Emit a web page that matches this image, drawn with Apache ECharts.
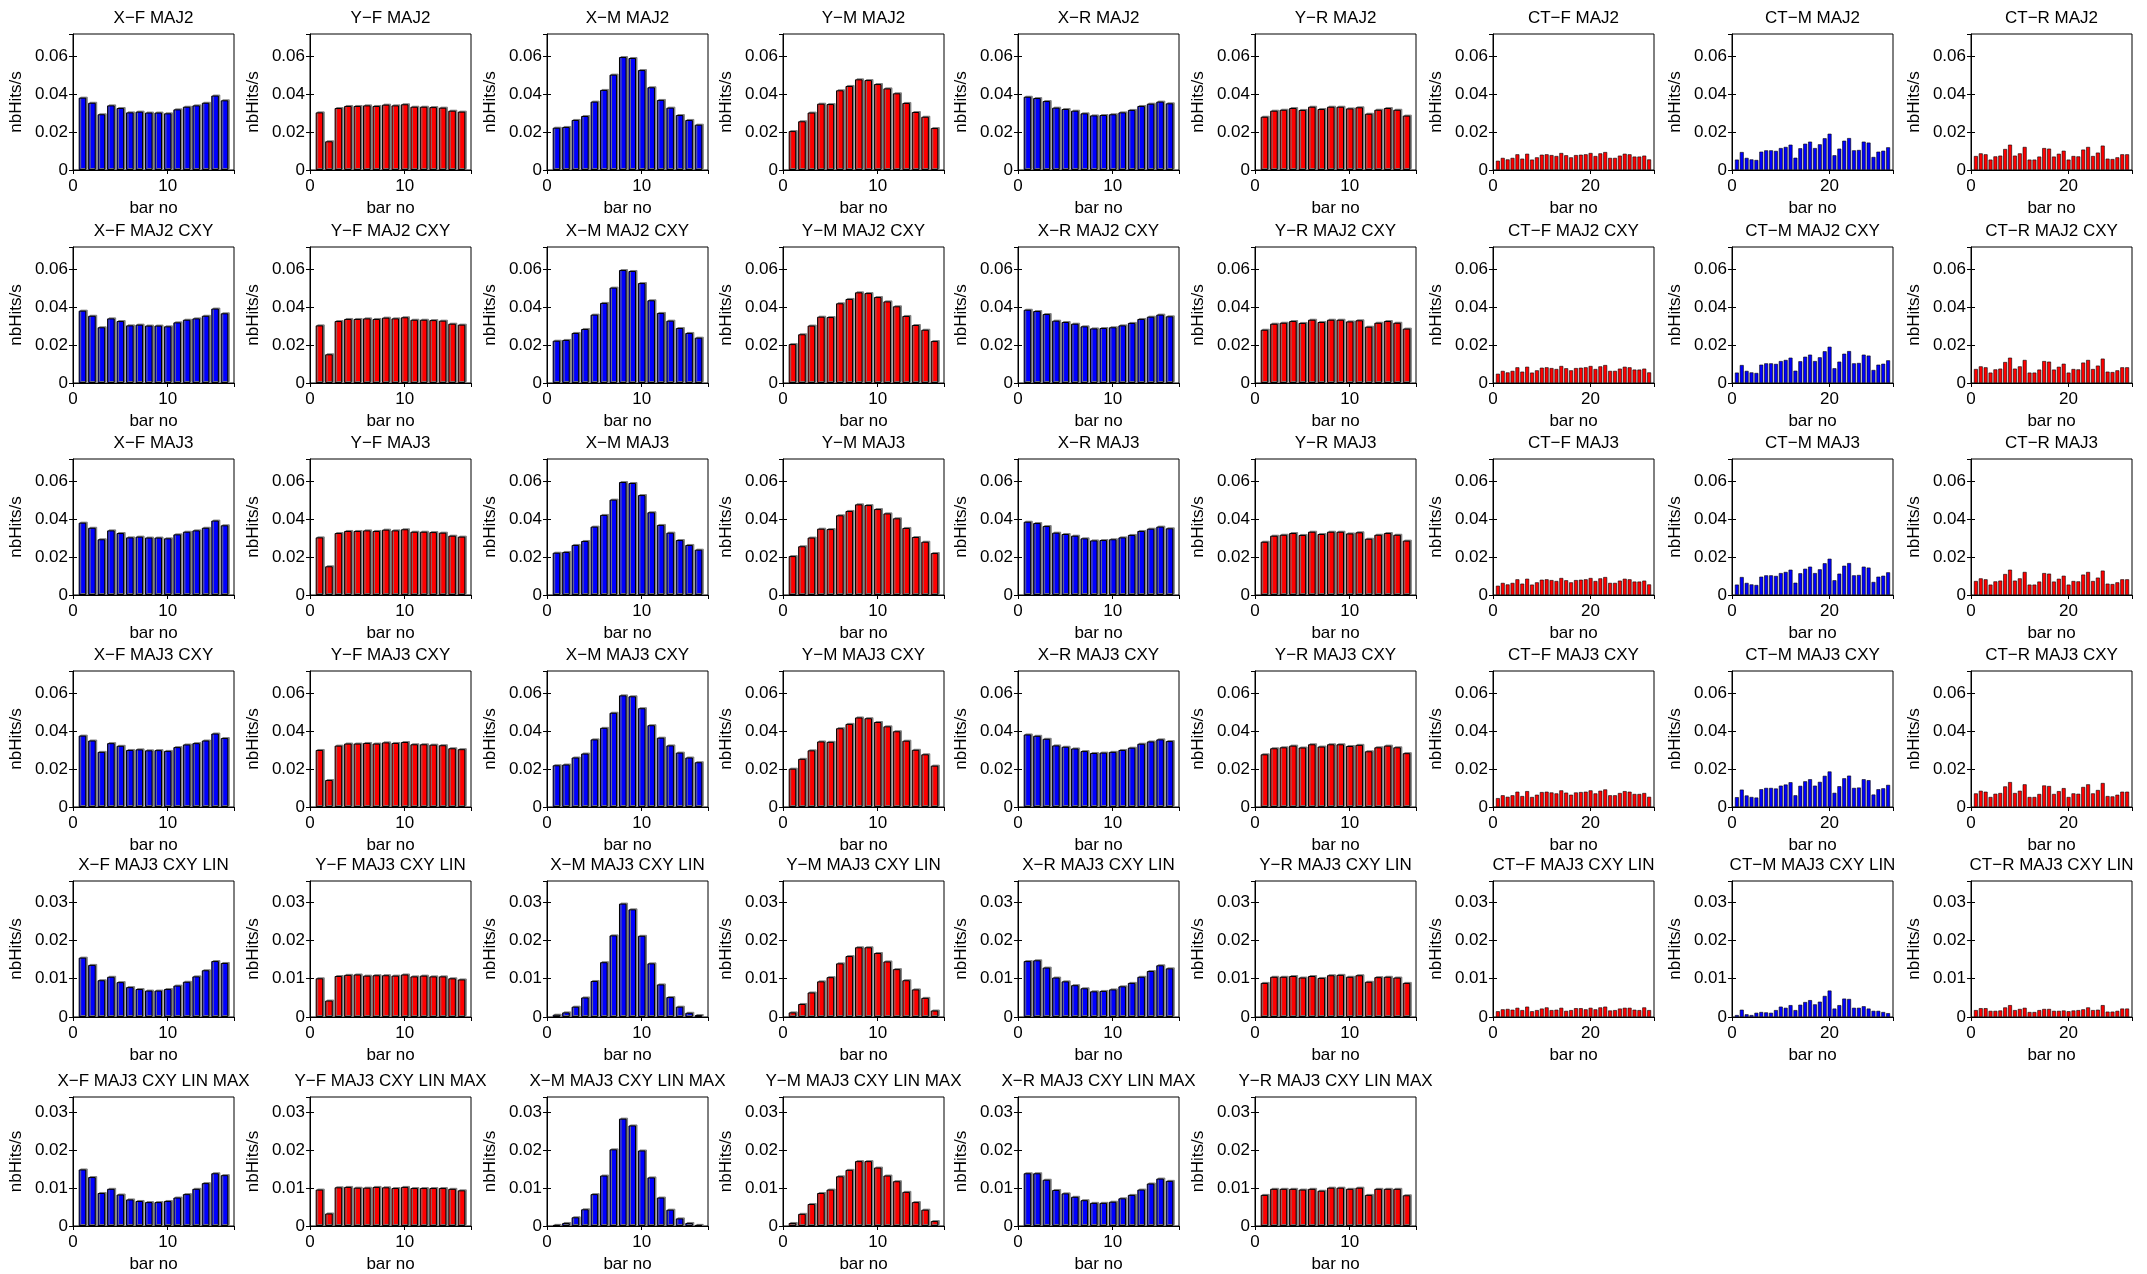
<!DOCTYPE html>
<html><head><meta charset="utf-8">
<script src="https://cdn.jsdelivr.net/npm/echarts@6/dist/echarts.min.js"></script>
<style>html,body{margin:0;padding:0;background:#fff}#c{width:2147px;height:1274px}</style>
</head><body><div id="c"></div>
<script>
// ---------- data ----------
const rowNames = ["MAJ2", "MAJ2 CXY", "MAJ3", "MAJ3 CXY", "MAJ3 CXY LIN", "MAJ3 CXY LIN MAX"];
const colNames = ["X\u2212F", "Y\u2212F", "X\u2212M", "Y\u2212M", "X\u2212R", "Y\u2212R", "CT\u2212F", "CT\u2212M", "CT\u2212R"];
const yTicksBig = [0, 0.02, 0.04, 0.06];
const yTicksSmall = [0, 0.01, 0.02, 0.03];

// row 1: MAJ2
const xF_MAJ2 = [0.0383,0.0356,0.0295,0.0342,0.0328,0.0305,0.0309,0.0304,0.0304,0.0300,0.0321,0.0335,0.0342,0.0356,0.0394,0.0369];
const yF_MAJ2 = [0.0305,0.0152,0.0328,0.0339,0.0339,0.0342,0.0339,0.0346,0.0342,0.0348,0.0335,0.0335,0.0333,0.0330,0.0314,0.0309];
const xM_MAJ2 = [0.0224,0.0228,0.0265,0.0286,0.0362,0.0424,0.0505,0.0598,0.0593,0.0529,0.0438,0.0371,0.0330,0.0291,0.0265,0.0240];
const yM_MAJ2 = [0.0206,0.0258,0.0304,0.0351,0.0349,0.0422,0.0445,0.0480,0.0476,0.0455,0.0432,0.0406,0.0355,0.0307,0.0282,0.0222];
const xR_MAJ2 = [0.0388,0.0381,0.0365,0.0330,0.0323,0.0314,0.0300,0.0289,0.0291,0.0295,0.0305,0.0318,0.0339,0.0351,0.0362,0.0353];
const yR_MAJ2 = [0.0282,0.0314,0.0319,0.0328,0.0318,0.0335,0.0323,0.0335,0.0335,0.0326,0.0332,0.0298,0.0319,0.0328,0.0319,0.0288];
const ctF_MAJ2 = [0.0049,0.0064,0.0056,0.0064,0.0083,0.0060,0.0086,0.0055,0.0067,0.0081,0.0083,0.0079,0.0074,0.0090,0.0078,0.0067,0.0079,0.0081,0.0083,0.0090,0.0074,0.0088,0.0095,0.0064,0.0064,0.0076,0.0086,0.0083,0.0071,0.0071,0.0076,0.0056];
const ctM_MAJ2 = [0.0055,0.0095,0.0064,0.0056,0.0053,0.0097,0.0104,0.0104,0.0101,0.0116,0.0122,0.0134,0.0065,0.0115,0.0139,0.0150,0.0116,0.0136,0.0168,0.0192,0.0078,0.0113,0.0155,0.0169,0.0104,0.0106,0.0150,0.0145,0.0069,0.0097,0.0102,0.0120];
const ctR_MAJ2 = [0.0074,0.0088,0.0083,0.0055,0.0072,0.0076,0.0111,0.0134,0.0076,0.0088,0.0122,0.0055,0.0055,0.0071,0.0116,0.0113,0.0071,0.0086,0.0102,0.0055,0.0074,0.0072,0.0108,0.0122,0.0074,0.0092,0.0129,0.0060,0.0058,0.0067,0.0083,0.0083];

// row 2: MAJ2 CXY
const xF_MAJ2CXY = [0.0383,0.0356,0.0295,0.0342,0.0328,0.0305,0.0309,0.0304,0.0304,0.0300,0.0321,0.0335,0.0342,0.0356,0.0394,0.0369];
const yF_MAJ2CXY = [0.0305,0.0152,0.0328,0.0339,0.0339,0.0342,0.0339,0.0346,0.0342,0.0348,0.0335,0.0335,0.0333,0.0330,0.0314,0.0309];
const xM_MAJ2CXY = [0.0224,0.0228,0.0265,0.0286,0.0362,0.0424,0.0505,0.0598,0.0593,0.0529,0.0438,0.0371,0.0330,0.0291,0.0265,0.0240];
const yM_MAJ2CXY = [0.0206,0.0258,0.0304,0.0351,0.0349,0.0422,0.0445,0.0480,0.0476,0.0455,0.0432,0.0406,0.0355,0.0307,0.0282,0.0222];
const xR_MAJ2CXY = [0.0388,0.0381,0.0365,0.0330,0.0323,0.0314,0.0300,0.0289,0.0291,0.0295,0.0305,0.0318,0.0339,0.0351,0.0362,0.0353];
const yR_MAJ2CXY = [0.0282,0.0314,0.0319,0.0328,0.0318,0.0335,0.0323,0.0335,0.0335,0.0326,0.0332,0.0298,0.0319,0.0328,0.0319,0.0288];
const ctF_MAJ2CXY = [0.0049,0.0064,0.0056,0.0064,0.0083,0.0060,0.0086,0.0055,0.0067,0.0081,0.0083,0.0079,0.0074,0.0090,0.0078,0.0067,0.0079,0.0081,0.0083,0.0090,0.0074,0.0088,0.0095,0.0064,0.0064,0.0076,0.0086,0.0083,0.0071,0.0071,0.0076,0.0056];
const ctM_MAJ2CXY = [0.0055,0.0095,0.0064,0.0056,0.0053,0.0097,0.0104,0.0104,0.0101,0.0116,0.0122,0.0134,0.0065,0.0115,0.0139,0.0150,0.0116,0.0136,0.0168,0.0192,0.0078,0.0113,0.0155,0.0169,0.0104,0.0106,0.0150,0.0145,0.0069,0.0097,0.0102,0.0120];
const ctR_MAJ2CXY = [0.0074,0.0088,0.0083,0.0055,0.0072,0.0076,0.0111,0.0134,0.0076,0.0088,0.0122,0.0055,0.0055,0.0071,0.0116,0.0113,0.0071,0.0086,0.0102,0.0055,0.0074,0.0072,0.0108,0.0122,0.0074,0.0092,0.0129,0.0060,0.0058,0.0067,0.0083,0.0083];

// row 3: MAJ3
const xF_MAJ3 = [0.0383,0.0356,0.0295,0.0342,0.0328,0.0305,0.0309,0.0304,0.0304,0.0300,0.0321,0.0335,0.0342,0.0356,0.0394,0.0369];
const yF_MAJ3 = [0.0305,0.0152,0.0328,0.0339,0.0339,0.0342,0.0339,0.0346,0.0342,0.0348,0.0335,0.0335,0.0333,0.0330,0.0314,0.0309];
const xM_MAJ3 = [0.0224,0.0228,0.0265,0.0286,0.0362,0.0424,0.0505,0.0598,0.0593,0.0529,0.0438,0.0371,0.0330,0.0291,0.0265,0.0240];
const yM_MAJ3 = [0.0206,0.0258,0.0304,0.0351,0.0349,0.0422,0.0445,0.0480,0.0476,0.0455,0.0432,0.0406,0.0355,0.0307,0.0282,0.0222];
const xR_MAJ3 = [0.0388,0.0381,0.0365,0.0330,0.0323,0.0314,0.0300,0.0289,0.0291,0.0295,0.0305,0.0318,0.0339,0.0351,0.0362,0.0353];
const yR_MAJ3 = [0.0282,0.0314,0.0319,0.0328,0.0318,0.0335,0.0323,0.0335,0.0335,0.0326,0.0332,0.0298,0.0319,0.0328,0.0319,0.0288];
const ctF_MAJ3 = [0.0049,0.0064,0.0056,0.0064,0.0083,0.0060,0.0086,0.0055,0.0067,0.0081,0.0083,0.0079,0.0074,0.0090,0.0078,0.0067,0.0079,0.0081,0.0083,0.0090,0.0074,0.0088,0.0095,0.0064,0.0064,0.0076,0.0086,0.0083,0.0071,0.0071,0.0076,0.0056];
const ctM_MAJ3 = [0.0055,0.0095,0.0064,0.0056,0.0053,0.0097,0.0104,0.0104,0.0101,0.0116,0.0122,0.0134,0.0065,0.0115,0.0139,0.0150,0.0116,0.0136,0.0168,0.0192,0.0078,0.0113,0.0155,0.0169,0.0104,0.0106,0.0150,0.0145,0.0069,0.0097,0.0102,0.0120];
const ctR_MAJ3 = [0.0074,0.0088,0.0083,0.0055,0.0072,0.0076,0.0111,0.0134,0.0076,0.0088,0.0122,0.0055,0.0055,0.0071,0.0116,0.0113,0.0071,0.0086,0.0102,0.0055,0.0074,0.0072,0.0108,0.0122,0.0074,0.0092,0.0129,0.0060,0.0058,0.0067,0.0083,0.0083];

// row 4: MAJ3 CXY
const xF_MAJ3CXY = [0.0378,0.0352,0.0292,0.0338,0.0324,0.0302,0.0305,0.0300,0.0301,0.0297,0.0317,0.0331,0.0338,0.0352,0.0389,0.0365];
const yF_MAJ3CXY = [0.0302,0.0143,0.0325,0.0336,0.0336,0.0339,0.0336,0.0342,0.0339,0.0344,0.0332,0.0332,0.0330,0.0327,0.0311,0.0306];
const xM_MAJ3CXY = [0.0221,0.0225,0.0262,0.0283,0.0358,0.0419,0.0499,0.0591,0.0586,0.0523,0.0433,0.0367,0.0326,0.0288,0.0262,0.0237];
const yM_MAJ3CXY = [0.0203,0.0255,0.0300,0.0347,0.0345,0.0417,0.0440,0.0474,0.0470,0.0450,0.0427,0.0401,0.0351,0.0303,0.0279,0.0219];
const xR_MAJ3CXY = [0.0384,0.0377,0.0361,0.0326,0.0319,0.0310,0.0296,0.0286,0.0288,0.0292,0.0302,0.0314,0.0335,0.0347,0.0358,0.0349];
const yR_MAJ3CXY = [0.0279,0.0311,0.0316,0.0325,0.0315,0.0332,0.0320,0.0332,0.0332,0.0323,0.0329,0.0295,0.0316,0.0325,0.0316,0.0285];
const ctF_MAJ3CXY = [0.0047,0.0062,0.0054,0.0062,0.0081,0.0058,0.0084,0.0053,0.0065,0.0079,0.0081,0.0077,0.0072,0.0088,0.0076,0.0065,0.0077,0.0079,0.0081,0.0088,0.0072,0.0086,0.0093,0.0062,0.0062,0.0074,0.0084,0.0081,0.0069,0.0069,0.0074,0.0054];
const ctM_MAJ3CXY = [0.0052,0.0092,0.0061,0.0053,0.0050,0.0094,0.0101,0.0101,0.0098,0.0113,0.0119,0.0131,0.0062,0.0112,0.0136,0.0147,0.0113,0.0133,0.0165,0.0188,0.0075,0.0110,0.0152,0.0166,0.0101,0.0103,0.0147,0.0142,0.0066,0.0094,0.0099,0.0117];
const ctR_MAJ3CXY = [0.0072,0.0086,0.0081,0.0053,0.0070,0.0074,0.0109,0.0132,0.0074,0.0086,0.0120,0.0053,0.0053,0.0069,0.0114,0.0111,0.0069,0.0084,0.0100,0.0053,0.0072,0.0070,0.0106,0.0120,0.0072,0.0090,0.0127,0.0058,0.0056,0.0065,0.0081,0.0081];

// row 5: MAJ3 CXY LIN
const xF_LIN = [0.0155,0.0136,0.0096,0.0105,0.0091,0.0078,0.0073,0.0069,0.0069,0.0073,0.0082,0.0092,0.0106,0.0122,0.0146,0.0141];
const yF_LIN = [0.0101,0.0043,0.0107,0.0110,0.0111,0.0108,0.0109,0.0109,0.0108,0.0111,0.0106,0.0108,0.0106,0.0106,0.0101,0.0098];
const xM_LIN = [0.0006,0.0012,0.0027,0.0051,0.0094,0.0143,0.0213,0.0296,0.0281,0.0212,0.0140,0.0085,0.0052,0.0027,0.0011,0.0005];
const yM_LIN = [0.0012,0.0034,0.0064,0.0093,0.0104,0.0140,0.0159,0.0182,0.0182,0.0167,0.0145,0.0125,0.0096,0.0072,0.0050,0.0017];
const xR_LIN = [0.0146,0.0148,0.0129,0.0103,0.0093,0.0083,0.0075,0.0067,0.0068,0.0072,0.0080,0.0089,0.0105,0.0120,0.0135,0.0127];
const yR_LIN = [0.0089,0.0105,0.0105,0.0107,0.0103,0.0107,0.0102,0.0109,0.0110,0.0105,0.0109,0.0092,0.0104,0.0105,0.0103,0.0089];
const ctF_LIN = [0.0015,0.0020,0.0021,0.0019,0.0024,0.0018,0.0027,0.0015,0.0018,0.0022,0.0025,0.0018,0.0019,0.0024,0.0016,0.0018,0.0023,0.0023,0.0020,0.0024,0.0020,0.0025,0.0027,0.0017,0.0018,0.0022,0.0024,0.0024,0.0019,0.0018,0.0025,0.0018];
const ctM_LIN = [0.0005,0.0019,0.0007,0.0005,0.0011,0.0013,0.0012,0.0011,0.0018,0.0027,0.0024,0.0031,0.0018,0.0032,0.0039,0.0044,0.0033,0.0040,0.0055,0.0069,0.0022,0.0031,0.0048,0.0047,0.0024,0.0024,0.0028,0.0022,0.0016,0.0016,0.0013,0.0010];
const ctR_LIN = [0.0018,0.0023,0.0023,0.0016,0.0016,0.0017,0.0025,0.0031,0.0018,0.0021,0.0024,0.0013,0.0013,0.0018,0.0021,0.0021,0.0016,0.0016,0.0017,0.0015,0.0017,0.0018,0.0020,0.0025,0.0018,0.0019,0.0031,0.0014,0.0014,0.0016,0.0022,0.0022];

// row 6: MAJ3 CXY LIN MAX
const xF_MAX = [0.0149,0.0129,0.0087,0.0098,0.0083,0.0070,0.0066,0.0063,0.0063,0.0066,0.0075,0.0084,0.0098,0.0113,0.0139,0.0134];
const yF_MAX = [0.0096,0.0033,0.0102,0.0103,0.0101,0.0101,0.0103,0.0102,0.0100,0.0103,0.0100,0.0100,0.0100,0.0100,0.0098,0.0094];
const xM_MAX = [0.0003,0.0008,0.0023,0.0044,0.0084,0.0133,0.0202,0.0283,0.0265,0.0199,0.0128,0.0075,0.0043,0.0020,0.0008,0.0003];
const yM_MAX = [0.0008,0.0032,0.0058,0.0087,0.0096,0.0131,0.0148,0.0171,0.0171,0.0154,0.0133,0.0118,0.0090,0.0063,0.0043,0.0013];
const xR_MAX = [0.0139,0.0139,0.0122,0.0095,0.0086,0.0077,0.0068,0.0061,0.0061,0.0064,0.0073,0.0082,0.0096,0.0112,0.0125,0.0119];
const yR_MAX = [0.0082,0.0098,0.0098,0.0098,0.0096,0.0098,0.0093,0.0101,0.0101,0.0098,0.0101,0.0082,0.0098,0.0098,0.0098,0.0081];

const rows = [
  {name: rowNames[0], yMax: 0.072, yInt: 0.02, data: [xF_MAJ2, yF_MAJ2, xM_MAJ2, yM_MAJ2, xR_MAJ2, yR_MAJ2, ctF_MAJ2, ctM_MAJ2, ctR_MAJ2]},
  {name: rowNames[1], yMax: 0.072, yInt: 0.02, data: [xF_MAJ2CXY, yF_MAJ2CXY, xM_MAJ2CXY, yM_MAJ2CXY, xR_MAJ2CXY, yR_MAJ2CXY, ctF_MAJ2CXY, ctM_MAJ2CXY, ctR_MAJ2CXY]},
  {name: rowNames[2], yMax: 0.072, yInt: 0.02, data: [xF_MAJ3, yF_MAJ3, xM_MAJ3, yM_MAJ3, xR_MAJ3, yR_MAJ3, ctF_MAJ3, ctM_MAJ3, ctR_MAJ3]},
  {name: rowNames[3], yMax: 0.072, yInt: 0.02, data: [xF_MAJ3CXY, yF_MAJ3CXY, xM_MAJ3CXY, yM_MAJ3CXY, xR_MAJ3CXY, yR_MAJ3CXY, ctF_MAJ3CXY, ctM_MAJ3CXY, ctR_MAJ3CXY]},
  {name: rowNames[4], yMax: 0.0355, yInt: 0.01, data: [xF_LIN, yF_LIN, xM_LIN, yM_LIN, xR_LIN, yR_LIN, ctF_LIN, ctM_LIN, ctR_LIN]},
  {name: rowNames[5], yMax: 0.034, yInt: 0.01, data: [xF_MAX, yF_MAX, xM_MAX, yM_MAX, xR_MAX, yR_MAX]}
];
const colColors = ["#0000ff", "#ff0000", "#0000ff", "#ff0000", "#0000ff", "#ff0000", "#ff0000", "#0000ff", "#ff0000"];

// ---------- layout ----------
const colLeft = [73, 310, 547, 783, 1018, 1255, 1493, 1732, 1971];
const boxW = 161;
const rowTop = [34, 247, 459, 671, 881, 1097];
const boxH = 136;
const FONT = "Liberation Sans, Arial, Helvetica, sans-serif";
const FS = 17;

const grid = [], xAxis = [], yAxis = [], series = [], graphic = [];
let gi = 0;
rows.forEach((row, r) => {
  row.data.forEach((vals, c) => {
    const n = vals.length;
    const xMax = n + 1;
    const xInt = n > 20 ? 20 : 10;
    const yInt = row.yInt;
    const narrow = n > 20;
    grid.push({left: colLeft[c], top: rowTop[r], width: boxW, height: boxH, show: true, borderColor: "#000", borderWidth: 1, backgroundColor: "#fff"});
    const fmtX = v => (Math.abs(v / xInt - Math.round(v / xInt)) < 1e-6 ? String(v) : "");
    const fmtY = v => (Math.abs(v / yInt - Math.round(v / yInt)) < 1e-6 ? String(+v.toFixed(3)) : "");
    xAxis.push({
      type: "value", gridIndex: gi, min: 0, max: xMax, interval: xInt, position: "bottom",
      name: "bar no", nameLocation: "middle", nameGap: 30,
      nameTextStyle: {fontFamily: FONT, fontSize: FS, color: "#000"},
      axisLine: {show: true, lineStyle: {color: "#000", width: 1}},
      axisTick: {show: true, inside: true, length: 4, lineStyle: {color: "#000"}},
      axisLabel: {show: true, margin: 8, formatter: fmtX, fontFamily: FONT, fontSize: FS, color: "#000", showMaxLabel: false},
      splitLine: {show: false}
    });
    xAxis.push({
      type: "value", gridIndex: gi, min: 0, max: xMax, interval: xInt, position: "top",
      axisLine: {show: false}, axisLabel: {show: false}, splitLine: {show: false},
      axisTick: {show: true, inside: true, length: 4, lineStyle: {color: "#000"}}
    });
    yAxis.push({
      type: "value", gridIndex: gi, min: 0, max: row.yMax, interval: yInt, position: "left",
      name: "nbHits/s", nameLocation: "middle", nameGap: 48,
      nameTextStyle: {fontFamily: FONT, fontSize: FS, color: "#000"},
      axisLine: {show: true, lineStyle: {color: "#000", width: 1}},
      axisTick: {show: true, inside: true, length: 4, lineStyle: {color: "#000"}},
      axisLabel: {show: true, margin: 5, formatter: fmtY, fontFamily: FONT, fontSize: FS, color: "#000", showMaxLabel: false},
      splitLine: {show: false}
    });
    yAxis.push({
      type: "value", gridIndex: gi, min: 0, max: row.yMax, interval: yInt, position: "right",
      axisLine: {show: false}, axisLabel: {show: false}, splitLine: {show: false},
      axisTick: {show: true, inside: true, length: 4, lineStyle: {color: "#000"}}
    });
    series.push({
      type: "bar", xAxisIndex: 2 * gi, yAxisIndex: 2 * gi,
      data: vals.map((v, i) => [i + 1, v]),
      barWidth: "80%",
      itemStyle: narrow
        ? {color: colColors[c], borderColor: "#000", borderWidth: 0.6}
        : {color: colColors[c], borderColor: "#000", borderWidth: 1,
           shadowColor: "rgba(120,120,120,0.9)", shadowOffsetX: 1.5, shadowOffsetY: -1, shadowBlur: 0},
      emphasis: {disabled: true}, silent: true
    });
    graphic.push({
      type: "text", x: colLeft[c] + boxW / 2, y: rowTop[r] - 16,
      style: {text: colNames[c] + " " + row.name, fill: "#000", fontFamily: FONT, fontSize: FS,
        textAlign: "center", textVerticalAlign: "middle", align: "center", verticalAlign: "middle"}
    });
    gi++;
  });
});

const chart = echarts.init(document.getElementById("c"), null, {renderer: "canvas"});
chart.setOption({animation: false, backgroundColor: "#fff", grid, xAxis, yAxis, series, graphic});
</script></body></html>
